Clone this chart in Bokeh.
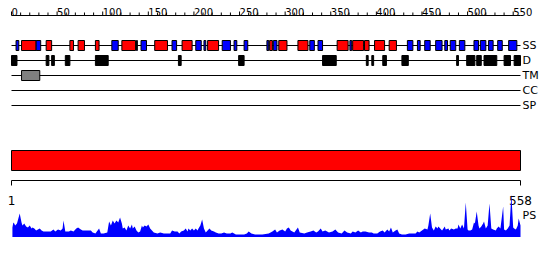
import numpy as np
from bokeh.plotting import figure
from bokeh.models import Range1d, ColumnDataSource
from bokeh.core.properties import value
from bokeh.embed import file_html
from bokeh.resources import INLINE

# ---------------- data ----------------
seq_len = 558
ruler_minor = list(range(0, 551, 10))
ruler_labels = [0, 50, 100, 150, 200, 250, 300, 350, 400, 450, 500, 550]
track_names = ["SS", "D", "TM", "CC", "SP"]

# secondary structure: H = helix (red), E = strand (blue)
ss_start = [6, 12, 28, 39, 65, 74, 93, 111, 122, 138, 143, 158, 177, 188, 203, 212, 216,
            232, 245, 256, 281, 284, 288, 294, 315, 328, 337, 358, 372, 375, 388, 399, 415,
            435, 446, 454, 466, 476, 482, 492, 508, 515, 524, 534, 546]
ss_end = [8, 27, 32, 44, 68, 80, 96, 117, 136, 138, 148, 171, 181, 198, 208, 213, 227,
          240, 247, 259, 282, 286, 291, 302, 325, 332, 341, 369, 373, 386, 392, 409, 422,
          440, 448, 459, 472, 478, 487, 497, 512, 520, 528, 538, 554]
ss_type = ["E", "H", "E", "H", "H", "H", "H", "E", "H", "E", "E", "H", "E", "H", "E", "E", "H",
           "E", "E", "E", "E", "H", "E", "H", "H", "E", "E", "H", "E", "H", "H", "H", "H",
           "E", "E", "E", "E", "E", "E", "E", "E", "E", "E", "E", "E"]

# disorder
d_start = [1, 39, 45, 60, 93, 184, 250, 342, 390, 396, 408, 429, 489, 500, 511, 519, 541, 552]
d_end = [6, 41, 47, 64, 106, 186, 255, 356, 391, 397, 411, 435, 490, 508, 515, 532, 547, 558]

# transmembrane
tm_start = [12]
tm_end = [31]

# domain bar
dom_start = [1]
dom_end = [558]

# PS profile (residue, score)
ps_pos = [1, 2, 3, 4, 6, 9, 11, 12, 14, 16, 18, 20, 22, 23, 25, 27, 29, 31, 33, 35, 39, 43,
          46, 48, 51, 54, 56, 57, 59, 63, 65, 68, 71, 73, 76, 78, 81, 84, 87, 89, 92, 96, 98,
          101, 105, 107, 109, 111, 113, 115, 117, 119, 121, 122, 124, 126, 128, 130, 132, 133,
          135, 137, 139, 141, 143, 144, 146, 148, 150, 152, 153, 156, 160, 163, 167, 171, 174,
          176, 179, 182, 184, 186, 189, 191, 193, 194, 196, 198, 200, 202, 204, 205, 207, 209,
          211, 213, 215, 217, 219, 222, 224, 227, 230, 233, 236, 240, 242, 246, 249, 255, 258,
          260, 263, 267, 275, 282, 284,
          286, 289, 291, 294, 297, 300, 302, 304, 306, 310, 314, 316, 321, 324, 328, 331, 334,
          336, 339, 341, 344, 348, 352, 355, 358, 362, 365, 368, 372, 374, 377, 380, 383, 385,
          388, 392, 395, 397, 401, 404, 407, 409, 412, 414, 416, 418, 421, 423, 425, 428, 432,
          436, 439, 443, 445, 447, 450, 453, 456, 457, 459, 461, 463, 465, 467, 468, 470, 472,
          475, 476, 479, 480, 482, 485, 487, 489, 490, 492, 494, 496, 498, 500, 501, 503, 505,
          507, 508, 510, 512, 513, 515, 517, 518, 520, 522, 524, 526, 528, 531, 532, 534, 536,
          539, 540, 542, 544, 546, 548, 550, 551, 553, 555, 556, 558]
ps_val = [8, 13, 12, 10, 12, 22, 13, 10, 12, 9, 8, 10, 7, 8, 7, 5, 6, 7, 5, 4, 4, 4,
          6, 4, 6, 5, 7, 15, 4, 4, 5, 4, 7, 8, 6, 5, 5, 5, 5, 3, 2, 7, 2,
          2, 3, 14, 10, 15, 12, 15, 13, 18, 12, 7, 8, 5, 10, 7, 11, 7,
          9, 5, 3, 4, 10, 8, 10, 9, 11, 7, 6, 3, 2, 3, 2, 2, 2,
          5, 4, 4, 2, 4, 5, 7, 4, 7, 5, 7, 5, 7, 5, 7, 10, 16,
          7, 3, 5, 7, 5, 4, 3, 2, 2, 3, 2, 2, 3, 1, 1, 1, 2,
          4, 2, 1, 1, 2, 3,
          4, 6, 3, 5, 6, 4, 7, 8, 5, 3, 8, 3, 2, 3, 4, 5, 3,
          4, 7, 4, 5, 3, 4, 6, 3, 2, 5, 3, 2, 4, 3, 5, 3, 4,
          4, 3, 3, 2, 2, 4, 5, 3, 6, 4, 8, 3, 5, 6, 2, 1, 1,
          2, 2, 2, 4, 3, 5, 7, 6, 10, 22, 8, 5, 9, 7, 9, 7, 5,
          9, 6, 7, 5, 7, 6, 7, 7, 11, 7, 11, 7, 33, 6, 5, 5, 6,
          13, 12, 24, 10, 7, 9, 12, 14, 7, 10, 32, 7, 6, 5, 7, 9, 7,
          29, 6, 5, 7, 10, 41, 8, 7, 6, 10, 17, 10]

# ---------------- figure ----------------
W, H = 550, 260
px_per_res = 509 / seq_len
x0 = -11 / px_per_res
x1 = x0 + W / px_per_res

p = figure(width=W, height=H, x_range=Range1d(x0, x1), y_range=Range1d(H, 0),
           output_backend="svg", toolbar_location=None,
           x_axis_location=None, y_axis_location=None,
           min_border=0, outline_line_color=None, background_fill_color="white")
p.grid.visible = False

FONT = value("DejaVu Sans")

# ruler
ruler_y = 15
p.segment(x0=[0], y0=[ruler_y], x1=[seq_len], y1=[ruler_y], line_color="black", line_width=1)
tick_top = [ruler_y - (4 if t % 50 == 0 else 3) for t in ruler_minor]
p.segment(x0=ruler_minor, y0=[ruler_y] * len(ruler_minor), x1=ruler_minor, y1=tick_top,
          line_color="black", line_width=1)
p.text(x=ruler_labels, y=[11] * len(ruler_labels), text=[str(v) for v in ruler_labels],
       text_font=FONT, text_font_size="10px", text_align="left",
       text_baseline="alphabetic", text_color="black")

# track lines and labels
track_y = [45 + 15 * i for i in range(len(track_names))]
p.segment(x0=[0] * len(track_y), y0=track_y, x1=[seq_len] * len(track_y), y1=track_y,
          line_color="black", line_width=1)
p.text(x=[seq_len] * len(track_y), y=track_y, text=track_names, x_offset=2,
       text_font=FONT, text_font_size="11px", text_align="left",
       text_baseline="middle", text_color="black")

# SS boxes
ss_col = ["#FF0000" if t == "H" else "#0000FF" for t in ss_type]
p.quad(left=[s - 1 for s in ss_start], right=ss_end,
       top=[track_y[0] - 5] * len(ss_start), bottom=[track_y[0] + 5] * len(ss_start),
       fill_color=ss_col, line_color="black", line_width=1)

# Disorder boxes
p.quad(left=[s - 1 for s in d_start], right=d_end,
       top=[track_y[1] - 5] * len(d_start), bottom=[track_y[1] + 5] * len(d_start),
       fill_color="black", line_color="black", line_width=1)

# TM boxes
p.quad(left=[s - 1 for s in tm_start], right=tm_end,
       top=[track_y[2] - 5] * len(tm_start), bottom=[track_y[2] + 5] * len(tm_start),
       fill_color="#808080", line_color="black", line_width=1)

# domain bar
p.quad(left=[s - 1 for s in dom_start], right=dom_end, top=[150], bottom=[170],
       fill_color="#FF0000", line_color="black", line_width=1)

# sequence axis
ax_y = 180
p.segment(x0=[0], y0=[ax_y], x1=[seq_len], y1=[ax_y], line_color="black", line_width=1)
p.segment(x0=[0, seq_len], y0=[ax_y, ax_y], x1=[0, seq_len], y1=[ax_y + 5, ax_y + 5],
          line_color="black", line_width=1)
p.text(x=[0, seq_len], y=[200, 200], text=["1", str(seq_len)],
       text_font=FONT, text_font_size="12px", text_align="center",
       text_baseline="alphabetic", text_color="black")

# PS profile
p.extra_y_ranges = {"ps": Range1d(start=-(H - 235), end=235)}
p.varea(x=ps_pos, y1=[-1.5] * len(ps_pos), y2=ps_val, y_range_name="ps",
        fill_color="#0000FF")
p.text(x=[seq_len], y=[215], text=["PS"], x_offset=2,
       text_font=FONT, text_font_size="11px", text_align="left",
       text_baseline="alphabetic", text_color="black")

open("out.html", "w").write(file_html(p, INLINE))
